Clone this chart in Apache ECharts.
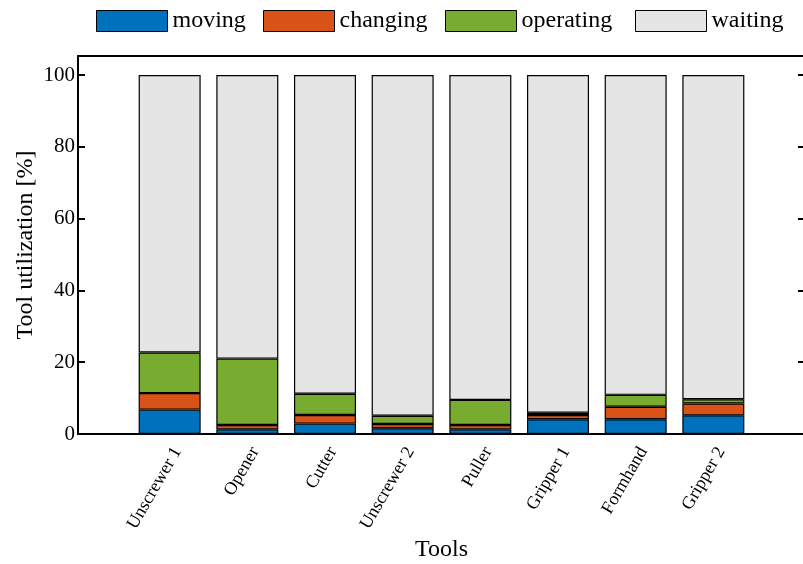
<!DOCTYPE html>
<html>
<head>
<meta charset="utf-8">
<script src="https://cdn.jsdelivr.net/npm/echarts@6/dist/echarts.min.js"></script>
<style>
  html, body { margin: 0; padding: 0; background: #fff; }
  #chart { width: 803px; height: 564px; }
</style>
</head>
<body>
<div id="chart"></div>
<script>
// Tool utilization per tool, split into activity shares (percent)
const categories = ['Unscrewer 1', 'Opener', 'Cutter', 'Unscrewer 2', 'Puller', 'Gripper 1', 'Formhand', 'Gripper 2'];
const moving    = [6.8, 1.3, 2.9, 1.6, 1.3, 4.1, 4.1, 5.2];
const changing  = [4.6, 1.2, 2.4, 1.2, 1.2, 1.2, 3.5, 3.3];
const operating = [11.3, 18.5, 5.9, 2.3, 7.0, 0.6, 3.3, 1.2];
const waiting   = [77.3, 79.0, 88.8, 94.9, 90.5, 94.1, 89.1, 90.3];
const yTicks = [0, 20, 40, 60, 80, 100];

const FONT = "'Liberation Serif', 'DejaVu Serif', serif";
const seriesDefs = [
  { name: 'moving', values: moving, color: '#0072BD' },
  { name: 'changing', values: changing, color: '#D95319' },
  { name: 'operating', values: operating, color: '#77AC30' },
  { name: 'waiting', values: waiting, color: '#E5E5E5' }
];
const legendLeft = [96, 263, 445, 635];

// The frame grid (index 0) spans the full axes box; x runs from -0.18 to 9.18 so
// that slots 1..8 line up with the category bands of the bar grid (index 1).
const X_MIN = -0.18, X_MAX = 9.18, Y_MAX = 105.3;
const FRAME_LEFT = 78, FRAME_RIGHT = -2;
const W = 803;
const frameWidth = W - FRAME_LEFT - FRAME_RIGHT;
const unit = frameWidth / (X_MAX - X_MIN);
const barGridLeft = FRAME_LEFT + (0.5 - X_MIN) * unit;
const barGridRight = W - (FRAME_LEFT + (categories.length + 0.5 - X_MIN) * unit);

const labelShift = 0;
const positions = categories.map((c, i) => i + 1);

const chart = echarts.init(document.getElementById('chart'), null, { renderer: 'canvas' });

const blackLine = { color: '#000', width: 2 };

chart.setOption({
  animation: false,
  backgroundColor: '#fff',
  textStyle: { fontFamily: FONT },
  legend: seriesDefs.map((s, i) => ({
    data: [{ name: s.name, icon: 'rect' }],
    left: legendLeft[i],
    top: 9,
    itemWidth: 71,
    itemHeight: 21,
    padding: 0,
    selectedMode: false,
    itemStyle: { borderColor: '#000', borderWidth: 1 },
    textStyle: { fontFamily: FONT, fontSize: 24, color: '#000' }
  })),
  grid: [
    { left: FRAME_LEFT, right: FRAME_RIGHT, top: 56, bottom: 130, containLabel: false, outerBoundsMode: 'none' },
    { left: barGridLeft, right: barGridRight, top: 56, bottom: 130, containLabel: false, outerBoundsMode: 'none' }
  ],
  xAxis: [
    {
      gridIndex: 0,
      type: 'value',
      min: X_MIN,
      max: X_MAX,
      position: 'bottom',
      name: 'Tools',
      nameLocation: 'middle',
      nameGap: 104,
      nameMoveOverlap: false,
      nameTextStyle: { fontFamily: FONT, fontSize: 24, color: '#000' },
      axisLine: { show: true, onZero: false, lineStyle: blackLine },
      axisTick: { show: false },
      splitLine: { show: false },
      axisLabel: {
        customValues: positions.map(p => p + labelShift),
        rotate: 60,
        align: 'right',
        verticalAlign: 'top',
        margin: 10,
        fontFamily: FONT,
        fontSize: 18,
        color: '#000',
        formatter: v => categories[Math.round(v - labelShift) - 1] || ''
      }
    },
    {
      gridIndex: 0,
      type: 'value',
      min: X_MIN,
      max: X_MAX,
      position: 'top',
      axisLine: { show: true, onZero: false, lineStyle: blackLine },
      axisTick: { show: false },
      axisLabel: { show: false },
      splitLine: { show: false }
    },
    {
      gridIndex: 1,
      type: 'category',
      data: categories,
      boundaryGap: true,
      axisLine: { show: false },
      axisTick: { show: false },
      axisLabel: { show: false },
      splitLine: { show: false }
    }
  ],
  yAxis: [
    {
      gridIndex: 0,
      type: 'value',
      min: 0,
      max: Y_MAX,
      position: 'left',
      name: 'Tool utilization [%]',
      nameLocation: 'middle',
      nameGap: 40,
      nameMoveOverlap: false,
      nameTextStyle: { fontFamily: FONT, fontSize: 24, color: '#000' },
      axisLine: { show: true, onZero: false, lineStyle: blackLine },
      axisTick: { show: true, inside: true, length: 7, customValues: yTicks, lineStyle: blackLine },
      axisLabel: { customValues: yTicks, margin: 3, fontFamily: FONT, fontSize: 21, color: '#000' },
      splitLine: { show: false }
    },
    {
      gridIndex: 0,
      type: 'value',
      min: 0,
      max: Y_MAX,
      position: 'right',
      axisLine: { show: true, onZero: false, lineStyle: blackLine },
      axisTick: { show: true, inside: true, length: 7, customValues: yTicks, lineStyle: blackLine },
      axisLabel: { show: false },
      splitLine: { show: false }
    },
    {
      gridIndex: 1,
      type: 'value',
      min: 0,
      max: Y_MAX,
      show: false
    }
  ],
  series: seriesDefs.map(s => ({
    name: s.name,
    type: 'bar',
    stack: 'total',
    xAxisIndex: 2,
    yAxisIndex: 2,
    barWidth: 62,
    z: 1,
    itemStyle: { color: s.color, borderColor: '#000', borderWidth: 1.2 },
    emphasis: { disabled: true },
    data: s.values
  }))
});
</script>
</body>
</html>
